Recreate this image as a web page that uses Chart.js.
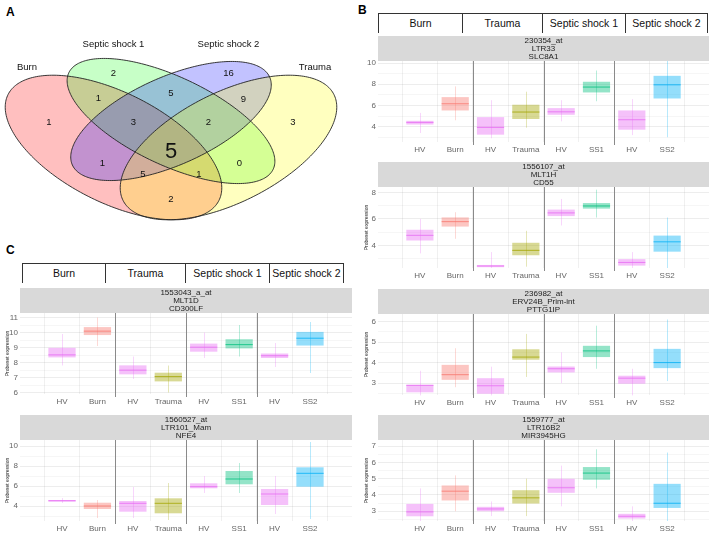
<!DOCTYPE html>
<html>
<head>
<meta charset="utf-8">
<script src="https://cdn.jsdelivr.net/npm/chart.js@4.4.1/dist/chart.umd.min.js"></script>
<style>
body { margin: 0; background: #fff; width: 713px; height: 538px; position: relative; overflow: hidden; font-family: "Liberation Sans", Arial, sans-serif; }
canvas { position: absolute; }
.letter { position: absolute; font-weight: bold; font-size: 12px; line-height: 12px; }
.cell { position: absolute; box-sizing: border-box; border-left: 1px solid #333; border-top: 1px solid #333; text-align: center; font-size: 10.5px; color: #111; }
.cell.last { border-right: 1px solid #333; }
</style>
</head>
<body>
<div class="letter" style="left:6px;top:6px;">A</div>
<div class="letter" style="left:358px;top:4px;">B</div>
<div class="letter" style="left:6px;top:244px;">C</div>
<div id="header_b"></div>
<div id="header_c"></div>
<canvas id="venn"></canvas>
<canvas id="b1"></canvas>
<canvas id="b2"></canvas>
<canvas id="b3"></canvas>
<canvas id="b4"></canvas>
<canvas id="c1"></canvas>
<canvas id="c2"></canvas>
<script>
// ベン図のデータ
const vennSets = ['Burn', 'Septic shock 1', 'Septic shock 2', 'Trauma'];
const vennCounts = [1, 2, 16, 3, 1, 5, 9, 3, 2, 5, 1, 0, 5, 1, 2];

// 箱ひげ図のカテゴリ
const groups = ['HV', 'Burn', 'HV', 'Trauma', 'HV', 'SS1', 'HV', 'SS2'];
const facetNames = ['Burn', 'Trauma', 'Septic shock 1', 'Septic shock 2'];

// B1: 230354_at
const b1Strip = ['230354_at', 'LTR33', 'SLC8A1'];
const b1Ticks = [4, 6, 8, 10];
const b1Q1  = [4.20, 5.53, 3.24, 4.72, 5.12, 7.23, 3.71, 6.66];
const b1Q3  = [4.55, 6.79, 4.90, 6.07, 5.75, 8.24, 5.53, 8.80];
const b1Med = [4.40, 6.16, 3.93, 5.38, 5.40, 7.74, 4.65, 7.95];
const b1Lo  = [3.4, 4.6, 2.9, 3.9, 4.5, 6.4, 3.2, 3.0];
const b1Hi  = [5.3, 7.8, 6.5, 7.3, 6.5, 9.3, 6.6, 10.2];

// B2: 1556107_at
const b2Strip = ['1556107_at', 'MLT1H', 'CD55'];
const b2Ticks = [4, 6, 8];
const b2Q1  = [4.37, 5.42, 2.36, 3.26, 6.21, 6.77, 2.48, 3.53];
const b2Q3  = [5.18, 6.11, 2.53, 4.20, 6.70, 7.19, 2.97, 4.74];
const b2Med = [4.76, 5.79, 2.45, 3.63, 6.45, 6.97, 2.72, 4.27];
const b2Lo  = [3.4, 4.5, 2.3, 2.4, 5.5, 6.1, 2.3, 2.3];
const b2Hi  = [6.0, 6.5, 3.5, 5.1, 7.5, 8.2, 3.5, 6.1];

// B3: 236982_at
const b3Strip = ['236982_at', 'ERV24B_Prim-int', 'PTTG1IP'];
const b3Ticks = [3, 4, 5, 6];
const b3Q1  = [2.55, 3.16, 2.48, 4.14, 3.52, 4.27, 2.97, 3.73];
const b3Q3  = [2.92, 3.89, 3.24, 4.65, 3.81, 4.82, 3.36, 4.67];
const b3Med = [2.89, 3.41, 2.87, 4.27, 3.70, 4.57, 3.24, 4.00];
const b3Lo  = [2.4, 2.8, 2.4, 3.3, 3.0, 3.7, 2.4, 3.1];
const b3Hi  = [3.6, 4.7, 3.8, 5.4, 4.5, 5.8, 3.7, 6.1];

// B4: 1559777_at
const b4Strip = ['1559777_at', 'LTR16B2', 'MIR3945HG'];
const b4Ticks = [3, 4, 5, 6, 7];
const b4Q1  = [2.69, 3.66, 3.00, 3.47, 4.13, 4.93, 2.55, 3.20];
const b4Q3  = [3.45, 4.58, 3.27, 4.29, 4.99, 5.71, 2.84, 4.68];
const b4Med = [2.96, 4.23, 3.14, 3.82, 4.44, 5.34, 2.69, 3.49];
const b4Lo  = [2.4, 3.0, 2.7, 2.7, 3.3, 4.4, 2.4, 2.4];
const b4Hi  = [4.4, 5.2, 3.6, 5.0, 5.8, 6.8, 3.3, 6.6];

// C1: 1553043_a_at
const c1Strip = ['1553043_a_at', 'MLT1D', 'CD300LF'];
const c1Ticks = [6, 7, 8, 9, 10, 11];
const c1Q1  = [8.34, 9.83, 7.21, 6.74, 8.72, 8.94, 8.30, 9.13];
const c1Q3  = [8.98, 10.36, 7.81, 7.32, 9.26, 9.55, 8.60, 10.04];
const c1Med = [8.51, 10.09, 7.49, 7.06, 9.02, 9.19, 8.45, 9.62];
const c1Lo  = [7.8, 9.1, 6.9, 6.0, 8.3, 8.4, 7.7, 7.3];
const c1Hi  = [9.9, 11.0, 8.4, 7.8, 10.0, 10.5, 9.3, 10.7];

// C2: 1560527_at
const c2Strip = ['1560527_at', 'LTR101_Mam', 'NFE4'];
const c2Ticks = [4, 6, 8, 10];
const c2Q1  = [4.43, 3.70, 3.43, 3.27, 5.77, 6.17, 4.10, 5.93];
const c2Q3  = [4.60, 4.33, 4.50, 4.77, 6.27, 7.50, 5.70, 7.87];
const c2Med = [4.53, 4.00, 4.27, 4.27, 5.93, 6.70, 5.20, 7.27];
const c2Lo  = [4.3, 2.8, 2.8, 2.6, 5.3, 5.3, 3.2, 2.7];
const c2Hi  = [4.8, 4.6, 5.9, 6.3, 7.0, 8.3, 7.0, 10.4];

// 色（ggplot のデフォルト色相）
const groupRgb = { HV: '231,107,243', Burn: '248,118,109', Trauma: '163,165,0', SS1: '0,191,125', SS2: '0,176,246' };
const dividers = [2.5, 4.5, 6.5];

// ベン図の配置（x・y とも等倍の座標、y は下向き）
const vennEllipses = [
    { cx: 113.5, cy: 147.5, a: 118, b: 55, rot: 26.7,  fill: 'rgba(255,0,0,0.25)' },
    { cx: 171,   cy: 121,   a: 113, b: 44, rot: 25.3,  fill: 'rgba(0,255,0,0.22)' },
    { cx: 171,   cy: 121,   a: 108, b: 44, rot: -24,   fill: 'rgba(0,0,255,0.24)' },
    { cx: 228.5, cy: 147.5, a: 118, b: 55, rot: -26.7, fill: 'rgba(255,255,0,0.25)' }
];
const vennSetPos = [[27, 67], [113.5, 44], [228.5, 44], [315, 67]];
const vennCountPos = [
    [49, 122], [113.5, 73], [228.5, 73], [293, 122],
    [98.5, 98], [171, 93], [243.5, 99],
    [133.5, 122], [208.5, 122], [171, 152],
    [102.5, 163], [239.5, 163], [143, 174], [199, 174],
    [171, 199]
];

// 画面上の配置
const layout = {
    venn: { left: 0, top: 0, width: 350, height: 240 },
    b1: { left: 356, top: 36, width: 353, height: 126, axis: 22, titlePad: 8 },
    b2: { left: 356, top: 162, width: 353, height: 126, axis: 22, titlePad: 8 },
    b3: { left: 356, top: 289, width: 353, height: 126, axis: 22, titlePad: 8 },
    b4: { left: 356, top: 415, width: 353, height: 126, axis: 22, titlePad: 8 },
    c1: { left: 0, top: 288, width: 352, height: 126, axis: 20, titlePad: 5 },
    c2: { left: 0, top: 415, width: 352, height: 126, axis: 20, titlePad: 5 }
};

function place(canvas, pos) {
    canvas.style.left = pos.left + 'px';
    canvas.style.top = pos.top + 'px';
    canvas.width = pos.width;
    canvas.height = pos.height;
}

// 見出し（Burn / Trauma / ...）
function create_header(id, top, edges) {
    const box = document.getElementById(id);
    for (let i = 0; i < facetNames.length; i++) {
        const last = i === facetNames.length - 1;
        const d = document.createElement('div');
        d.className = 'cell' + (last ? ' last' : '');
        d.style.left = edges[i] + 'px';
        d.style.top = top + 'px';
        d.style.width = (edges[i + 1] - edges[i] + (last ? 1 : 0)) + 'px';
        d.style.height = '20px';
        d.style.lineHeight = '19px';
        d.textContent = facetNames[i];
        box.appendChild(d);
    }
}

// ベン図
const vennPlugin = {
    id: 'vennPlugin',
    beforeDatasetsDraw(chart) {
        const ctx = chart.ctx;
        const xs = chart.scales.x, ys = chart.scales.y;
        const path = (e) => {
            const th = e.rot * Math.PI / 180;
            ctx.beginPath();
            for (let k = 0; k <= 240; k++) {
                const t = k / 240 * Math.PI * 2;
                const u = e.cx + e.a * Math.cos(t) * Math.cos(th) - e.b * Math.sin(t) * Math.sin(th);
                const v = e.cy + e.a * Math.cos(t) * Math.sin(th) + e.b * Math.sin(t) * Math.cos(th);
                const px = xs.getPixelForValue(u), py = ys.getPixelForValue(v);
                if (k === 0) ctx.moveTo(px, py); else ctx.lineTo(px, py);
            }
            ctx.closePath();
        };
        ctx.save();
        vennEllipses.forEach(e => { path(e); ctx.fillStyle = e.fill; ctx.fill(); });
        ctx.strokeStyle = '#222';
        ctx.lineWidth = 0.9;
        vennEllipses.forEach(e => { path(e); ctx.stroke(); });
        ctx.restore();
    },
    afterDatasetsDraw(chart) {
        const ctx = chart.ctx;
        const meta = chart.getDatasetMeta(0);
        ctx.save();
        ctx.fillStyle = '#111';
        ctx.textAlign = 'center';
        ctx.textBaseline = 'middle';
        meta.data.forEach((el, i) => {
            ctx.font = (i === 9 ? '22px' : '9.5px') + ' "Liberation Sans", Arial, sans-serif';
            ctx.fillText(String(vennCounts[i]), el.x, el.y);
        });
        ctx.font = '9.5px "Liberation Sans", Arial, sans-serif';
        vennSets.forEach((s, i) => {
            ctx.fillText(s, chart.scales.x.getPixelForValue(vennSetPos[i][0]), chart.scales.y.getPixelForValue(vennSetPos[i][1]));
        });
        ctx.restore();
    }
};

function create_venn() {
    const canvas = document.getElementById('venn');
    place(canvas, layout.venn);
    new Chart(canvas.getContext('2d'), {
        type: 'scatter',
        data: {
            datasets: [{
                data: vennCounts.map((c, i) => ({ x: vennCountPos[i][0], y: vennCountPos[i][1] })),
                pointRadius: 0
            }]
        },
        options: {
            responsive: false,
            animation: false,
            layout: { padding: 0 },
            plugins: { legend: { display: false }, tooltip: { enabled: false } },
            scales: {
                x: { type: 'linear', min: 0, max: layout.venn.width, display: false },
                y: { type: 'linear', min: 0, max: layout.venn.height, reverse: true, display: false }
            }
        },
        plugins: [vennPlugin]
    });
}

// 箱ひげ図の付属物（ストリップ、ひげ、中央値、区切り線）
const boxPlugin = {
    id: 'boxExtras',
    beforeDraw(chart, args, opts) {
        const ctx = chart.ctx;
        const a = chart.chartArea;
        ctx.save();
        ctx.fillStyle = '#d9d9d9';
        ctx.fillRect(a.left, 0, a.right - a.left, a.top);
        ctx.fillStyle = '#222';
        ctx.font = '8px "Liberation Sans", Arial, sans-serif';
        ctx.textAlign = 'center';
        ctx.textBaseline = 'middle';
        opts.strip.forEach((s, i) => ctx.fillText(s, (a.left + a.right) / 2, 4.5 + i * 8));
        ctx.restore();
    },
    beforeDatasetsDraw(chart, args, opts) {
        const ctx = chart.ctx;
        const xs = chart.scales.x, ys = chart.scales.y;
        ctx.save();
        ctx.lineWidth = 1;
        groups.forEach((g, i) => {
            const x = Math.round(xs.getPixelForValue(i + 1)) + 0.5;
            ctx.strokeStyle = 'rgba(' + groupRgb[g] + ',0.28)';
            ctx.beginPath();
            ctx.moveTo(x, ys.getPixelForValue(opts.lo[i]));
            ctx.lineTo(x, ys.getPixelForValue(opts.hi[i]));
            ctx.stroke();
        });
        ctx.restore();
    },
    afterDatasetsDraw(chart, args, opts) {
        const ctx = chart.ctx;
        const xs = chart.scales.x, ys = chart.scales.y;
        const a = chart.chartArea;
        const meta = chart.getDatasetMeta(0);
        ctx.save();
        ctx.lineWidth = 1;
        meta.data.forEach((bar, i) => {
            const y = ys.getPixelForValue(opts.med[i]);
            ctx.strokeStyle = 'rgba(' + groupRgb[groups[i]] + ',0.8)';
            ctx.beginPath();
            ctx.moveTo(bar.x - bar.width / 2, y);
            ctx.lineTo(bar.x + bar.width / 2, y);
            ctx.stroke();
        });
        ctx.strokeStyle = '#8a8a8a';
        dividers.forEach(v => {
            const x = Math.round(xs.getPixelForValue(v)) + 0.5;
            ctx.beginPath();
            ctx.moveTo(x, a.top);
            ctx.lineTo(x, a.bottom + 3);
            ctx.stroke();
        });
        ctx.restore();
    }
};

// 目盛り（主目盛りと補助目盛り）
function build_y_ticks(major, min, max) {
    const step = major[1] - major[0];
    const list = [];
    for (let v = major[0] - step / 2; v <= max + 1e-9; v += step / 2) {
        if (v < min - 1e-9) continue;
        const isMajor = major.some(m => Math.abs(m - v) < 1e-6);
        list.push({ value: v, minor: !isMajor });
    }
    return list;
}

function create_box_chart(id, panel) {
    const pos = layout[id];
    const canvas = document.getElementById(id);
    place(canvas, pos);
    const xs = groups.map((g, i) => i + 1);
    return new Chart(canvas.getContext('2d'), {
        type: 'bar',
        data: {
            datasets: [{
                data: xs.map((x, i) => ({ x: x, y: [panel.q1[i], panel.q3[i]] })),
                backgroundColor: groups.map(g => 'rgba(' + groupRgb[g] + ',0.42)'),
                borderWidth: 0,
                categoryPercentage: 0.77,
                barPercentage: 1
            }]
        },
        options: {
            responsive: false,
            animation: false,
            layout: { padding: { top: 25, left: 0, right: 0, bottom: 0 } },
            plugins: {
                legend: { display: false },
                tooltip: { enabled: false },
                boxExtras: { strip: panel.strip, med: panel.med, lo: panel.lo, hi: panel.hi }
            },
            scales: {
                x: {
                    type: 'linear',
                    min: 0.4,
                    max: 8.6,
                    afterBuildTicks: s => { s.ticks = xs.map(v => ({ value: v })); },
                    afterFit: s => { s.height = 20; },
                    ticks: {
                        callback: v => groups[v - 1],
                        font: { size: 8, family: '"Liberation Sans", Arial, sans-serif' },
                        color: '#666',
                        padding: 3,
                        maxRotation: 0,
                        autoSkip: false
                    },
                    grid: { color: 'rgba(0,0,0,0.06)', drawTicks: false },
                    border: { display: false }
                },
                y: {
                    type: 'linear',
                    min: panel.range[0],
                    max: panel.range[1],
                    afterBuildTicks: s => { s.ticks = build_y_ticks(panel.ticks, panel.range[0], panel.range[1]); },
                    afterFit: s => { s.width = pos.axis; },
                    ticks: {
                        callback: (v, i, t) => (t[i].minor ? '' : v),
                        font: { size: 8, family: '"Liberation Sans", Arial, sans-serif' },
                        color: '#666',
                        padding: 2,
                        autoSkip: false
                    },
                    grid: {
                        color: c => (c.tick && c.tick.minor ? 'rgba(0,0,0,0.035)' : 'rgba(0,0,0,0.07)'),
                        drawTicks: false
                    },
                    border: { display: false },
                    title: {
                        display: panel.title,
                        text: 'Probeset expression',
                        font: { size: 5, family: '"Liberation Sans", Arial, sans-serif' },
                        color: '#222',
                        padding: { top: pos.titlePad, bottom: 0 }
                    }
                }
            }
        },
        plugins: [boxPlugin]
    });
}

create_header('header_b', 13, [378, 462, 542, 625, 707]);
create_header('header_c', 263, [22, 105, 185, 269, 343]);
create_venn();
create_box_chart('b1', { strip: b1Strip, ticks: b1Ticks, range: [2.55, 10.2], q1: b1Q1, q3: b1Q3, med: b1Med, lo: b1Lo, hi: b1Hi, title: false });
create_box_chart('b2', { strip: b2Strip, ticks: b2Ticks, range: [2.3, 8.4], q1: b2Q1, q3: b2Q3, med: b2Med, lo: b2Lo, hi: b2Hi, title: true });
create_box_chart('b3', { strip: b3Strip, ticks: b3Ticks, range: [2.42, 6.37], q1: b3Q1, q3: b3Q3, med: b3Med, lo: b3Lo, hi: b3Hi, title: true });
create_box_chart('b4', { strip: b4Strip, ticks: b4Ticks, range: [2.4, 7.37], q1: b4Q1, q3: b4Q3, med: b4Med, lo: b4Lo, hi: b4Hi, title: true });
create_box_chart('c1', { strip: c1Strip, ticks: c1Ticks, range: [5.9, 11.3], q1: c1Q1, q3: c1Q3, med: c1Med, lo: c1Lo, hi: c1Hi, title: true });
create_box_chart('c2', { strip: c2Strip, ticks: c2Ticks, range: [2.5, 10.6], q1: c2Q1, q3: c2Q3, med: c2Med, lo: c2Lo, hi: c2Hi, title: true });
</script>
</body>
</html>
